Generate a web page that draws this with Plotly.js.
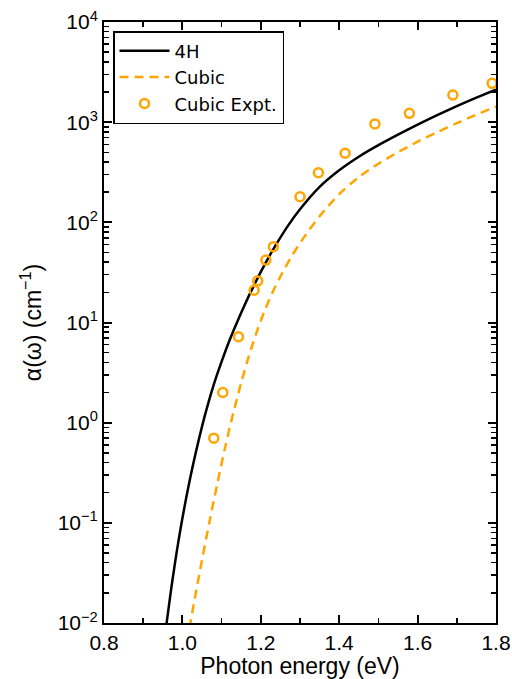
<!DOCTYPE html>
<html>
<head>
<meta charset="utf-8">
<script src="https://cdn.plot.ly/plotly-3.0.1.min.js"></script>
<style>html,body{margin:0;padding:0;background:#fff;}</style>
</head>
<body>
<div id="chart" style="width:512px;height:679px;"></div>
<script>
// 4H (theory, solid black)
const energy4H = [0.958, 0.97, 0.98, 0.99, 1.00, 1.01, 1.02, 1.03, 1.04, 1.05, 1.06, 1.08, 1.10, 1.12, 1.14, 1.16, 1.18, 1.20, 1.22, 1.24, 1.27, 1.30, 1.35, 1.40, 1.45, 1.50, 1.55, 1.60, 1.65, 1.70, 1.75, 1.80];
const alpha4H = [0.0089, 0.020, 0.0372, 0.0661, 0.111, 0.180, 0.282, 0.427, 0.631, 0.912, 1.29, 2.40, 4.07, 6.61, 10.2, 15.3, 22.4, 32.0, 44.7, 61.0, 93.3, 135, 226, 331, 452, 589, 750, 944, 1175, 1445, 1758, 2113];

// Cubic (theory, dashed orange)
const energyCubic = [1.018, 1.03, 1.05, 1.07, 1.09, 1.11, 1.13, 1.15, 1.17, 1.19, 1.21, 1.23, 1.25, 1.28, 1.31, 1.35, 1.40, 1.45, 1.50, 1.55, 1.60, 1.65, 1.70, 1.75, 1.80];
const alphaCubic = [0.0089, 0.0162, 0.0427, 0.107, 0.257, 0.589, 1.26, 2.51, 4.68, 8.13, 13.2, 20.0, 28.8, 46.8, 70.8, 115, 191, 282, 385, 501, 638, 794, 977, 1189, 1429];

// Cubic experiment (open circles)
const energyExpt = [1.08, 1.103, 1.143, 1.183, 1.192, 1.213, 1.232, 1.30, 1.347, 1.415, 1.491, 1.579, 1.69, 1.79];
const alphaExpt = [0.70, 2.0, 7.2, 21, 26, 42, 57, 180, 313, 489, 960, 1225, 1866, 2440];

const xTickVals = [0.8, 1.0, 1.2, 1.4, 1.6, 1.8];
const xTickText = ['0.8', '1.0', '1.2', '1.4', '1.6', '1.8'];
const xMinorVals = [0.9, 1.1, 1.3, 1.5, 1.7];
const yTickVals = [0.01, 0.1, 1, 10, 100, 1000, 10000];
const yTickText = ['10<sup>−2</sup>', '10<sup>−1</sup>', '10<sup>0</sup>', '10<sup>1</sup>', '10<sup>2</sup>', '10<sup>3</sup>', '10<sup>4</sup>'];

const orange = '#FFA500';

const traces = [
  {x: energy4H, y: alpha4H, type: 'scatter', mode: 'lines', name: '4H',
   line: {color: 'black', width: 2.5, shape: 'spline', smoothing: 0.8}},
  {x: energyCubic, y: alphaCubic, type: 'scatter', mode: 'lines', name: 'Cubic',
   line: {color: orange, width: 2.5, dash: '9px,6px', shape: 'spline', smoothing: 0.8}},
  {x: energyExpt, y: alphaExpt, type: 'scatter', mode: 'markers', name: 'Cubic Expt.',
   marker: {symbol: 'circle-open', size: 9, color: orange, line: {color: orange, width: 2.5}},
   cliponaxis: false}
];

const tickFont = {family: 'Liberation Sans, Arial, sans-serif', size: 21, color: 'black'};
const titleFont = {family: 'Liberation Sans, Arial, sans-serif', size: 23, color: 'black'};

const layout = {
  width: 512, height: 679,
  margin: {l: 104, r: 16, t: 22, b: 56, pad: 0},
  paper_bgcolor: 'white', plot_bgcolor: 'white',
  font: tickFont,
  showlegend: true,
  legend: {x: 0.023, y: 0.985, xanchor: 'left', yanchor: 'top',
    bgcolor: 'white', bordercolor: 'black', borderwidth: 1.5,
    font: {family: 'DejaVu Sans, sans-serif', size: 18, color: 'black'},
    itemwidth: 50, tracegroupgap: 0},
  xaxis: {
    range: [0.8, 1.8], tickvals: xTickVals, ticktext: xTickText,
    ticks: 'inside', ticklen: 8, tickwidth: 2, tickcolor: 'black',
    showline: true, linecolor: 'black', linewidth: 2, mirror: 'ticks',
    showgrid: false, zeroline: false,
    minor: {tickvals: xMinorVals, ticks: 'inside', ticklen: 5, tickwidth: 1.5, tickcolor: 'black', showgrid: false},
    title: {text: 'Photon energy (eV)', font: titleFont, standoff: 2},
    tickfont: tickFont
  },
  yaxis: {
    type: 'log', range: [-2, 4], tickvals: yTickVals, ticktext: yTickText,
    ticks: 'inside', ticklen: 8, tickwidth: 2, tickcolor: 'black',
    showline: true, linecolor: 'black', linewidth: 2, mirror: 'ticks',
    showgrid: false, zeroline: false,
    minor: {dtick: 'D1', ticks: 'inside', ticklen: 5, tickwidth: 1.5, tickcolor: 'black', showgrid: false},
    title: {text: 'α(ω) (cm<sup>−1</sup>)', font: titleFont, standoff: 10},
    tickfont: tickFont
  }
};

Plotly.newPlot('chart', traces, layout, {displayModeBar: false, staticPlot: true});
</script>
</body>
</html>
